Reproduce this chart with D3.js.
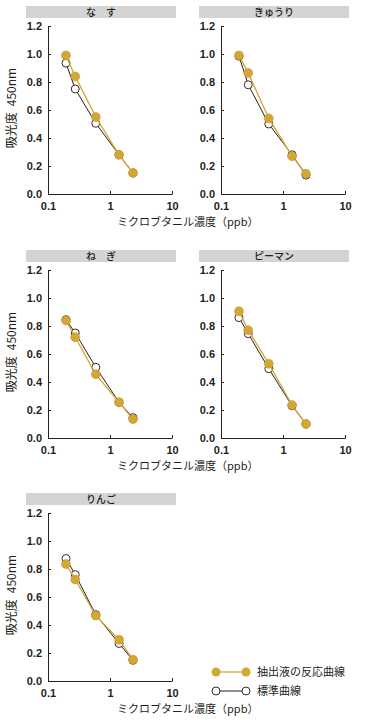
<!DOCTYPE html>
<html lang="ja">
<head>
    <meta charset="UTF-8">
    <title>吸光度 450nm</title>
    <script src="https://cdnjs.cloudflare.com/ajax/libs/d3/7.8.5/d3.min.js"></script>
    <style>
        body {
            margin: 0;
            background: #fff;
            font-family: "Liberation Sans", Arial, sans-serif;
        }
        .tick text {
            font-family: "Liberation Sans", Arial, sans-serif;
            font-weight: bold;
            font-size: 11px;
            fill: #231f20;
        }
        .jp {
            font-family: "Noto Sans CJK JP", sans-serif;
            fill: #231f20;
        }
    </style>
</head>
<body>
<svg id="chart" width="368" height="720"></svg>
<script>
    // data
    const conc = [0.195, 0.275, 0.59, 1.4, 2.35];
    const yTicks = [0, 0.2, 0.4, 0.6, 0.8, 1.0, 1.2];
    const xTicks = [0.1, 1, 10];

    const panelNames = ["な　す", "きゅうり", "ね　ぎ", "ピーマン", "りんご"];
    const extract = [
        [0.99, 0.84, 0.55, 0.28, 0.15],
        [0.99, 0.865, 0.54, 0.27, 0.145],
        [0.84, 0.72, 0.455, 0.255, 0.135],
        [0.905, 0.77, 0.53, 0.235, 0.1],
        [0.835, 0.725, 0.467, 0.295, 0.152]
    ];
    const standard = [
        [0.935, 0.75, 0.505, 0.28, 0.15],
        [0.985, 0.78, 0.5, 0.28, 0.135],
        [0.845, 0.75, 0.505, 0.255, 0.145],
        [0.86, 0.745, 0.495, 0.23, 0.1],
        [0.875, 0.76, 0.474, 0.268, 0.148]
    ];
    const legendLabels = ["抽出液の反応曲線", "標準曲線"];

    const gold = "#d4a633";
    const ink = "#231f20";

    const svg = d3.select("#chart");

    const colX = [48, 221];
    const rowY = [26, 270, 513];
    const plotW = 124, plotH = 168;

    function drawPanel(i) {
        const col = i % 2, row = Math.floor(i / 2);
        const x0 = colX[col], top = rowY[row];

        const x = d3.scaleLog().domain([0.1, 10]).range([x0, x0 + plotW]);
        const y = d3.scaleLinear().domain([0, 1.2]).range([top + plotH, top]);

        const g = svg.append("g");

        // grey header bar
        g.append("rect")
            .attr("x", x0 - 22)
            .attr("y", top - 20)
            .attr("width", plotW + 26)
            .attr("height", 12)
            .attr("fill", "#d4d4d4");
        g.append("text")
            .attr("class", "jp")
            .attr("x", x0 - 22 + (plotW + 26) / 2)
            .attr("y", top - 10)
            .attr("text-anchor", "middle")
            .style("font-size", "10px")
            .style("font-weight", "500")
            .text(panelNames[i]);

        const yAxis = d3.axisLeft(y)
            .tickValues(yTicks)
            .tickFormat(d3.format(".1f"))
            .tickSize(-3)
            .tickSizeOuter(0)
            .tickPadding(6);
        const xAxis = d3.axisBottom(x)
            .tickValues(xTicks)
            .tickFormat(d => d)
            .tickSize(-3)
            .tickSizeOuter(0)
            .tickPadding(8);

        g.append("g")
            .attr("transform", `translate(${x0},0)`)
            .call(yAxis)
            .call(a => a.selectAll("path,line").attr("stroke", ink));
        g.append("g")
            .attr("transform", `translate(0,${top + plotH})`)
            .call(xAxis)
            .call(a => a.selectAll("path,line").attr("stroke", ink));

        const line = d3.line().x(d => x(d[0])).y(d => y(d[1]));
        const stdPts = conc.map((c, k) => [c, standard[i][k]]);
        const extPts = conc.map((c, k) => [c, extract[i][k]]);

        g.append("path").datum(stdPts)
            .attr("d", line).attr("fill", "none")
            .attr("stroke", ink).attr("stroke-width", 1);
        g.selectAll(".std").data(stdPts).enter().append("circle")
            .attr("cx", d => x(d[0])).attr("cy", d => y(d[1]))
            .attr("r", 4).attr("fill", "#fff")
            .attr("stroke", "#3a2a28").attr("stroke-width", 1);

        g.append("path").datum(extPts)
            .attr("d", line).attr("fill", "none")
            .attr("stroke", gold).attr("stroke-width", 1.3);
        g.selectAll(".ext").data(extPts).enter().append("circle")
            .attr("cx", d => x(d[0])).attr("cy", d => y(d[1]))
            .attr("r", 4.5).attr("fill", gold)
            .attr("stroke", "#b8923a").attr("stroke-width", 0.5);

        // axis titles
        if (col === 0) {
            svg.append("text")
                .attr("class", "jp")
                .attr("transform", `translate(16,${top + plotH / 2 - 2}) rotate(-90)`)
                .attr("text-anchor", "middle")
                .style("font-size", "12px")
                .text("吸光度\u2002450nm");
            svg.append("text")
                .attr("class", "jp")
                .attr("x", 117)
                .attr("y", top + plotH + 32)
                .style("font-size", "11px")
                .text("ミクロブタニル濃度（ppb）");
        }
    }

    for (let i = 0; i < panelNames.length; i++) drawPanel(i);

    // legend
    const legend = svg.append("g");
    const legendY = [672, 691];
    legend.append("line")
        .attr("x1", 216).attr("x2", 246).attr("y1", legendY[0]).attr("y2", legendY[0])
        .attr("stroke", gold).attr("stroke-width", 1.3);
    legend.selectAll(".lg").data([216, 246]).enter().append("circle")
        .attr("cx", d => d).attr("cy", legendY[0]).attr("r", 4.5).attr("fill", gold);
    legend.append("line")
        .attr("x1", 216).attr("x2", 246).attr("y1", legendY[1]).attr("y2", legendY[1])
        .attr("stroke", ink).attr("stroke-width", 1);
    legend.selectAll(".lw").data([216, 246]).enter().append("circle")
        .attr("cx", d => d).attr("cy", legendY[1]).attr("r", 4)
        .attr("fill", "#fff").attr("stroke", "#3a2a28").attr("stroke-width", 1);
    legend.selectAll(".lt").data(legendLabels).enter().append("text")
        .attr("class", "jp")
        .attr("x", 257)
        .attr("y", (d, k) => legendY[k] + 4)
        .style("font-size", "11px")
        .text(d => d);
</script>
</body>
</html>
